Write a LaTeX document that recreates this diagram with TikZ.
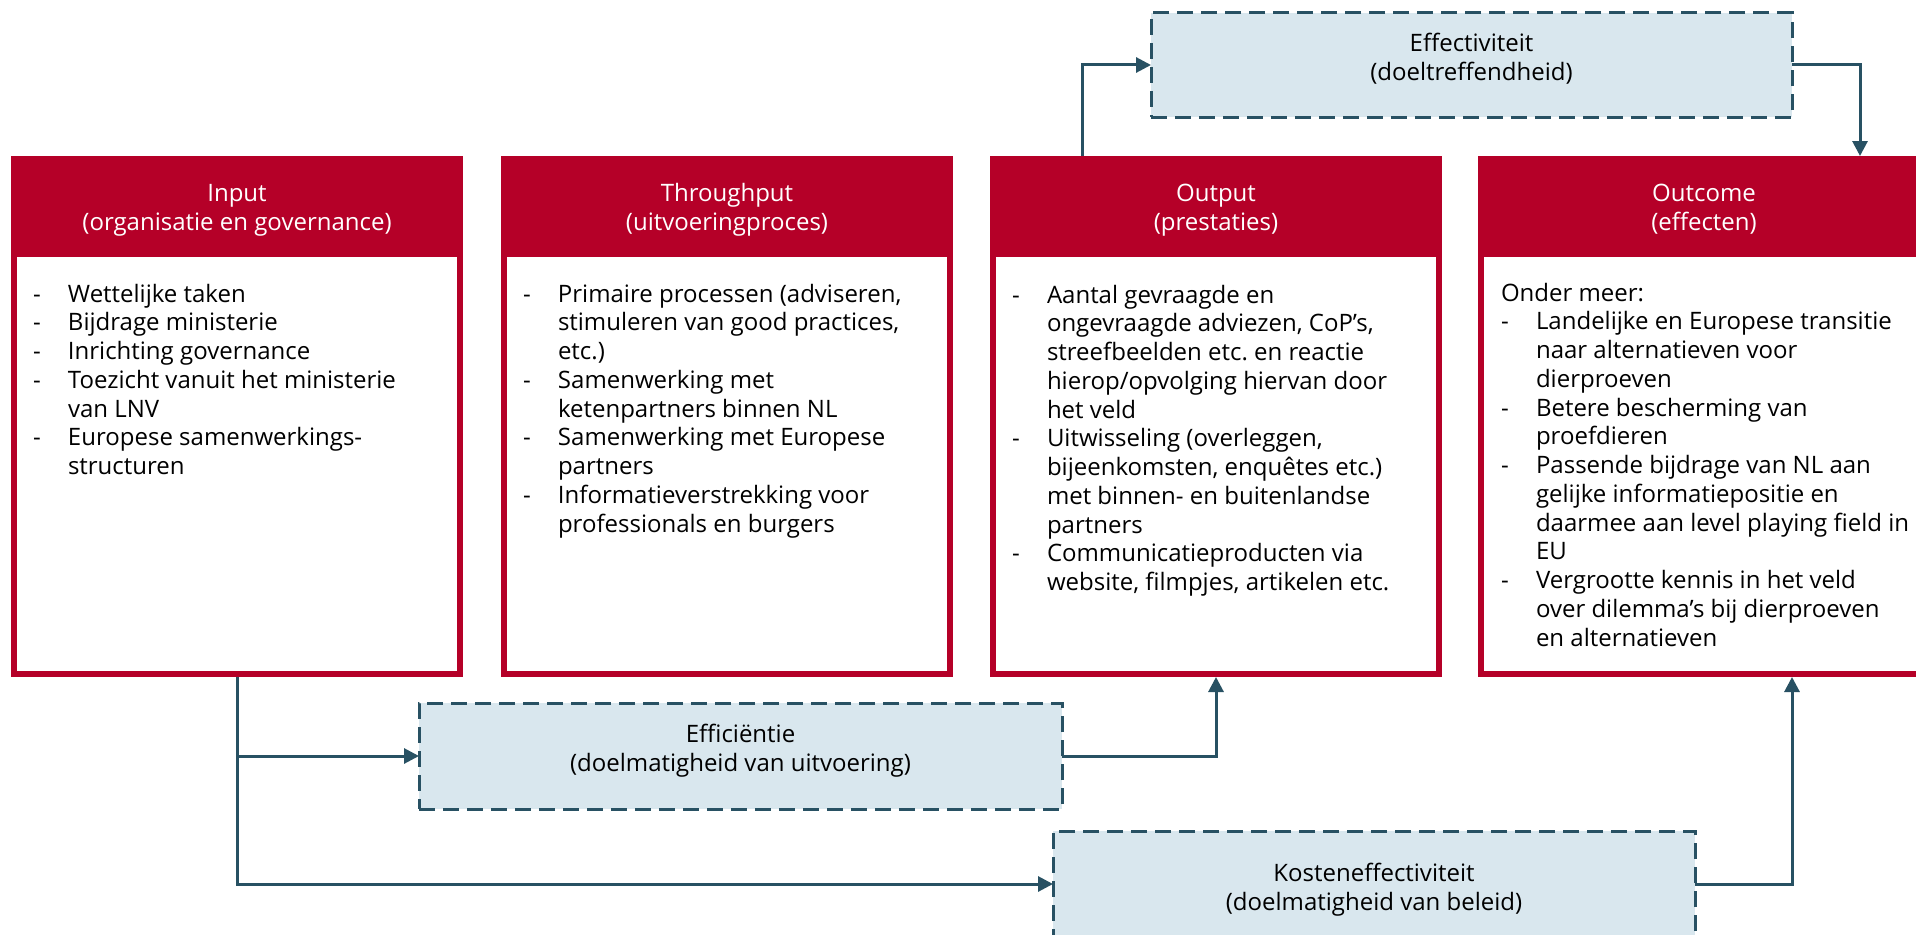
\documentclass[tikz,border=0pt]{standalone}
\usepackage{fontspec}
\setmainfont{Open Sans}
\usetikzlibrary{arrows.meta}
\definecolor{tnred}{HTML}{B50028}
\definecolor{tnteal}{HTML}{285163}
\definecolor{tnblue}{HTML}{D9E7EE}
\newcommand{\tnbodyfont}{\fontsize{24pt}{28.75pt}\selectfont\frenchspacing}
\newcommand{\tnheadfont}{\fontsize{24pt}{29pt}\selectfont\frenchspacing}
\frenchspacing
\begin{document}
\begin{tikzpicture}[x=1pt,y=-1pt,
  hdr/.style={rectangle, fill=tnred, draw=none, minimum width=452pt, minimum height=101pt, inner sep=0pt, outer sep=0pt, anchor=north west},
  bodybox/.style={rectangle, draw=tnred, line width=6pt, fill=white, minimum width=446pt, minimum height=420pt, inner sep=0pt, outer sep=3pt, anchor=north west},
  hdrtxt/.style={anchor=base, inner sep=0pt, outer sep=0pt, text=white, font=\tnheadfont},
  txt/.style={anchor=base west, inner sep=0pt, outer sep=0pt, text=black, font=\tnbodyfont},
  dbox/.style={rectangle, draw=tnteal, line width=3pt, dash pattern=on 16pt off 8pt, fill=tnblue, inner sep=0pt, outer sep=0pt, anchor=north west},
  dtxt/.style={anchor=base, inner sep=0pt, outer sep=0pt, text=black, font=\tnheadfont},
  conn/.style={draw=tnteal, line width=3pt, -{Triangle[length=15pt,width=15pt]}}
]
\clip (0,0) rectangle (1916,934);
\fill[white] (0,0) rectangle (1916,934);

% dashed boxes
\node[dbox, minimum width=641pt, minimum height=104pt] (eff) at (1151,13) {};
\node[dbox, minimum width=643pt, minimum height=106pt] (effi) at (419,703) {};
\node[dbox, minimum width=642pt, minimum height=106pt] (kost) at (1053,831) {};
\node[dtxt] (efftxt) at (1471.5,52) {\begin{tabular}[t]{@{}c@{}}Effectiviteit\\(doeltreffendheid)\end{tabular}};
\node[dtxt] (effitxt) at (740.5,742) {\begin{tabular}[t]{@{}c@{}}Efficiëntie\\(doelmatigheid van uitvoering)\end{tabular}};
\node[dtxt] (kosttxt) at (1374,881) {\begin{tabular}[t]{@{}c@{}}Kosteneffectiviteit\\(doelmatigheid van beleid)\end{tabular}};

% red boxes: bodies
\node[bodybox] (inbody) at (11,251) {};
\node[bodybox] (thbody) at (501,251) {};
\node[bodybox] (oubody) at (990,251) {};
\node[bodybox] (ocbody) at (1478,251) {};
% headers
\node[hdr] (inhead) at (11,156) {};
\node[hdr] (thhead) at (501,156) {};
\node[hdr] (ouhead) at (990,156) {};
\node[hdr] (ochead) at (1478,156) {};
\node[hdrtxt] (inheadtxt) at (237,201) {\begin{tabular}[t]{@{}c@{}}Input\\(organisatie en governance)\end{tabular}};
\node[hdrtxt] (thheadtxt) at (727,201) {\begin{tabular}[t]{@{}c@{}}Throughput\\(uitvoeringproces)\end{tabular}};
\node[hdrtxt] (ouheadtxt) at (1216,201) {\begin{tabular}[t]{@{}c@{}}Output\\(prestaties)\end{tabular}};
\node[hdrtxt] (ocheadtxt) at (1704,201) {\begin{tabular}[t]{@{}c@{}}Outcome\\(effecten)\end{tabular}};

% body texts
\node[txt] (intxt) at (33,302) {\begin{tabular}[t]{@{}p{35pt}@{}l@{}}
-&Wettelijke taken\\
-&Bijdrage ministerie\\
-&Inrichting governance\\
-&Toezicht vanuit het ministerie\\
&van LNV\\
-&Europese samenwerkings-\\
&structuren
\end{tabular}};
\node[txt] (thtxt) at (523,302) {\begin{tabular}[t]{@{}p{35pt}@{}l@{}}
-&Primaire processen (adviseren,\\
&stimuleren van good practices,\\
&etc.)\\
-&Samenwerking met\\
&ketenpartners binnen NL\\
-&Samenwerking met Europese\\
&partners\\
-&Informatieverstrekking voor\\
&professionals en burgers
\end{tabular}};
\node[txt] (outxt) at (1012,303) {\begin{tabular}[t]{@{}p{35pt}@{}l@{}}
-&Aantal gevraagde en\\
&ongevraagde adviezen, CoP’s,\\
&streefbeelden etc. en reactie\\
&hierop/opvolging hiervan door\\
&het veld\\
-&Uitwisseling (overleggen,\\
&bijeenkomsten, enquêtes etc.)\\
&met binnen- en buitenlandse\\
&partners\\
-&Communicatieproducten via\\
&website, filmpjes, artikelen etc.
\end{tabular}};
\node[txt] (octxt) at (1501,301) {\begin{tabular}[t]{@{}p{35pt}@{}l@{}}
\multicolumn{2}{@{}l@{}}{Onder meer:}\\
-&Landelijke en Europese transitie\\
&naar alternatieven voor\\
&dierproeven\\
-&Betere bescherming van\\
&proefdieren\\
-&Passende bijdrage van NL aan\\
&gelijke informatiepositie en\\
&daarmee aan level playing field in\\
&EU\\
-&Vergrootte kennis in het veld\\
&over dilemma’s bij dierproeven\\
&en alternatieven
\end{tabular}};

% connectors
\draw[conn] ([xshift=92pt]ouhead.north west) |- (eff.west);
\draw[conn] (eff.east) -| ([xshift=382pt]ochead.north west);
\draw[conn] (inbody.south) |- (kost.west);
\draw[conn] (inbody.south |- effi.west) -- (effi.west);
\draw[conn] (effi.east) -| (oubody.south);
\draw[conn] (kost.east) -| ([xshift=314pt]ocbody.south west);
\end{tikzpicture}
\end{document}
